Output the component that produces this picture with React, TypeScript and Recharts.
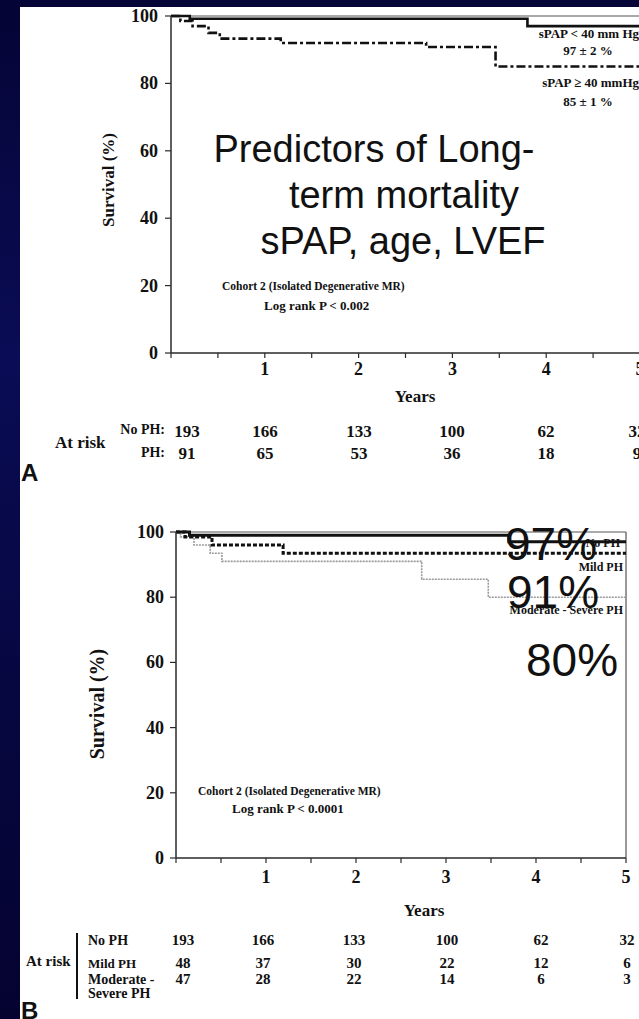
import React from "react";
import { LineChart, Line, XAxis, YAxis, ReferenceLine } from "recharts";

// Shared axis ticks
const yearTicks = [0, 0.5, 1, 1.5, 2, 2.5, 3, 3.5, 4, 4.5, 5];
const survivalTicks = [0, 20, 40, 60, 80, 100];
const riskColumnYears = [0, 1, 2, 3, 4, 5];

// Panel A: sPAP < 40 vs sPAP >= 40 mmHg
const lowSpapYears = [0, 0.2, 3.8, 5];
const lowSpapSurvival = [100, 99.2, 97, 97];
const highSpapYears = [0, 0.1, 0.23, 0.4, 0.52, 1.17, 2.72, 3.46, 5];
const highSpapSurvival = [100, 98.5, 97, 95, 93.3, 92, 90.8, 85, 85];
const atRiskNoPhA = [193, 166, 133, 100, 62, 32];
const atRiskPhA = [91, 65, 53, 36, 18, 9];

// Panel B: No PH / Mild PH / Moderate-Severe PH
const noPhYears = [0, 0.15, 3.7, 5];
const noPhSurvival = [100, 99, 97, 97];
const mildPhYears = [0, 0.1, 0.4, 1.19, 5];
const mildPhSurvival = [100, 98.5, 96, 93.5, 93.5];
const modSevPhYears = [0, 0.05, 0.2, 0.38, 0.51, 2.73, 3.47, 5];
const modSevPhSurvival = [100, 98.5, 96, 93.5, 91, 85.5, 80, 80];
const atRiskNoPhB = [193, 166, 133, 100, 62, 32];
const atRiskMildB = [48, 37, 30, 22, 12, 6];
const atRiskModSevB = [47, 28, 22, 14, 6, 3];

const SERIF = "'Liberation Serif', 'Times New Roman', serif";
const SANS = "'Liberation Sans', Arial, sans-serif";
const AXIS = "#2a2a2a";

const toPoints = (years: number[], surv: number[]) =>
  years.map((t, i) => ({ t, s: surv[i] }));

const makeXTick = (labelOffset: number) => (props: any) => {
  const { x, y, payload } = props;
  const v = payload.value as number;
  return (
    <g>
      <line x1={x} x2={x} y1={y} y2={y + 5} stroke={AXIS} strokeWidth={1.2} />
      {Number.isInteger(v) && v > 0 ? (
        <text x={x} y={y + labelOffset} textAnchor="middle" fontFamily={SERIF} fontWeight="bold" fontSize={18} fill="#111">
          {v}
        </text>
      ) : null}
    </g>
  );
};

const makeYTick = (gap: number) => (props: any) => {
  const { x, y, payload } = props;
  return (
    <g>
      <line x1={x - 6} x2={x} y1={y} y2={y} stroke={AXIS} strokeWidth={1.2} />
      <text x={x - gap} y={y + 6} textAnchor="end" fontFamily={SERIF} fontWeight="bold" fontSize={18} fill="#111">
        {payload.value}
      </text>
    </g>
  );
};

type Series = { key: string; data: { t: number; s: number }[]; stroke: string; width: number; dash?: string };

function SurvivalPlot(props: {
  top: number;
  width: number;
  height: number;
  margin: { top: number; right: number; bottom: number; left: number };
  series: Series[];
  xLabelOffset: number;
  yGap: number;
}) {
  const { top, width, height, margin, series, xLabelOffset, yGap } = props;
  return (
    <div style={{ position: "absolute", left: 0, top, width, height }}>
      <LineChart width={width} height={height} margin={margin}>
        <XAxis
          dataKey="t"
          type="number"
          domain={[0, 5]}
          ticks={yearTicks}
          interval={0}
          tickSize={0}
          tickMargin={0}
          tickLine={false}
          height={30}
          axisLine={{ stroke: AXIS, strokeWidth: 1.5 }}
          tick={makeXTick(xLabelOffset)}
        />
        <YAxis
          type="number"
          domain={[0, 100]}
          ticks={survivalTicks}
          interval={0}
          tickSize={0}
          tickMargin={0}
          tickLine={false}
          width={40}
          axisLine={{ stroke: AXIS, strokeWidth: 1.5 }}
          tick={makeYTick(yGap)}
        />
        <ReferenceLine y={100} stroke="#555" strokeWidth={1} />
        <ReferenceLine x={5} stroke="#555" strokeWidth={1.2} />
        {series.map((s) => (
          <Line
            key={s.key}
            data={s.data}
            dataKey="s"
            type="stepAfter"
            stroke={s.stroke}
            strokeWidth={s.width}
            strokeDasharray={s.dash}
            dot={false}
            activeDot={false}
            isAnimationActive={false}
          />
        ))}
      </LineChart>
    </div>
  );
}

const T = (p: any) => {
  const { children, serif = true, bold = true, size, ...rest } = p;
  return (
    <text fontFamily={serif ? SERIF : SANS} fontWeight={bold ? "bold" : "normal"} fontSize={size} fill="#111" {...rest}>
      {children}
    </text>
  );
};

export default function App() {
  const seriesA: Series[] = [
    { key: "lowSpap", data: toPoints(lowSpapYears, lowSpapSurvival), stroke: "#111", width: 2.6 },
    { key: "highSpap", data: toPoints(highSpapYears, highSpapSurvival), stroke: "#111", width: 2.6, dash: "9 3 3 3" },
  ];
  const seriesB: Series[] = [
    { key: "modSev", data: toPoints(modSevPhYears, modSevPhSurvival), stroke: "#9a9a9a", width: 1.6, dash: "2 1" },
    { key: "mild", data: toPoints(mildPhYears, mildPhSurvival), stroke: "#111", width: 3, dash: "4 2" },
    { key: "noPh", data: toPoints(noPhYears, noPhSurvival), stroke: "#111", width: 3 },
  ];

  // at-risk column centres
  const colA = [187, 265, 359, 452, 546, 637];
  const colB = [183, 263, 354, 447, 541, 627];

  return (
    <div style={{ position: "fixed", left: 0, top: 0, width: 639, height: 1019, overflow: "hidden", background: "#03032c" }}>
      <svg width={639} height={1019} style={{ position: "absolute", left: 0, top: 0 }}>
        <defs>
          <linearGradient id="edge" x1="0" y1="0" x2="0" y2="1">
            <stop offset="0" stopColor="#050436" />
            <stop offset="0.35" stopColor="#0a0c55" />
            <stop offset="0.6" stopColor="#070845" />
            <stop offset="1" stopColor="#040330" />
          </linearGradient>
        </defs>
        <rect x={0} y={0} width={639} height={1019} fill="url(#edge)" />
        <rect x={20} y={7} width={619} height={1012} fill="#ffffff" />
      </svg>

      <SurvivalPlot
        top={0}
        width={700}
        height={400}
        margin={{ top: 16, right: 60, bottom: 17, left: 131 }}
        series={seriesA}
        xLabelOffset={22}
        yGap={13}
      />
      <SurvivalPlot
        top={480}
        width={660}
        height={420}
        margin={{ top: 52, right: 34, bottom: 12, left: 136 }}
        series={seriesB}
        xLabelOffset={25}
        yGap={12}
      />

      <svg width={639} height={1019} style={{ position: "absolute", left: 0, top: 0, pointerEvents: "none" }}>
        {/* Panel A */}
        <T size={17} textAnchor="middle" transform="translate(114,180) rotate(-90)">Survival (%)</T>
        <T size={17} x={415} y={402} textAnchor="middle">Years</T>
        <T size={13} x={639} y={38} textAnchor="end">sPAP &lt; 40 mm Hg</T>
        <T size={13} x={588} y={55} textAnchor="middle">97 ± 2 %</T>
        <T size={13} x={639} y={87} textAnchor="end">sPAP ≥ 40 mmHg</T>
        <T size={13} x={588} y={106} textAnchor="middle">85 ± 1 %</T>
        <T size={11.5} x={222} y={290}>Cohort 2  (Isolated Degenerative MR)</T>
        <T size={13} x={264} y={310}>Log rank P &lt; 0.002</T>
        <T serif={false} bold={false} size={38} x={374} y={162} textAnchor="middle">Predictors of Long-</T>
        <T serif={false} bold={false} size={38} x={404} y={208} textAnchor="middle">term mortality</T>
        <T serif={false} bold={false} size={38} x={403} y={254} textAnchor="middle">sPAP, age, LVEF</T>

        <T size={17} x={55} y={448}>At risk</T>
        <T size={14} x={165} y={434} textAnchor="end">No PH:</T>
        <T size={14} x={165} y={457} textAnchor="end">PH:</T>
        {riskColumnYears.map((yr, i) => (
          <T key={"a1" + yr} size={17} x={colA[i]} y={437} textAnchor="middle">{atRiskNoPhA[i]}</T>
        ))}
        {riskColumnYears.map((yr, i) => (
          <T key={"a2" + yr} size={17} x={colA[i]} y={459} textAnchor="middle">{atRiskPhA[i]}</T>
        ))}
        <T serif={false} size={24} x={21} y={481}>A</T>

        {/* Panel B */}
        <T size={20} textAnchor="middle" transform="translate(104,704) rotate(-90)">Survival (%)</T>
        <T size={17} x={424} y={916} textAnchor="middle">Years</T>
        <T size={12} x={620} y={547} textAnchor="end">No PH</T>
        <T size={12} x={623} y={571} textAnchor="end">Mild PH</T>
        <T size={12} x={623} y={614} textAnchor="end">Moderate - Severe PH</T>
        <T size={11.5} x={198} y={795}>Cohort 2  (Isolated Degenerative MR)</T>
        <T size={13} x={232} y={813}>Log rank P &lt; 0.0001</T>
        <T serif={false} bold={false} size={46} x={505} y={560}>97%</T>
        <T serif={false} bold={false} size={46} x={507} y={608}>91%</T>
        <T serif={false} bold={false} size={46} x={526} y={676}>80%</T>

        <T size={15} x={26} y={966}>At risk</T>
        <line x1={77} x2={77} y1={933} y2={999} stroke="#111" strokeWidth={2} />
        <T size={14} x={88} y={945}>No PH</T>
        <T size={13} x={88} y={968}>Mild PH</T>
        <T size={14} x={88} y={984}>Moderate -</T>
        <T size={14} x={88} y={998}>Severe PH</T>
        {riskColumnYears.map((yr, i) => (
          <T key={"b1" + yr} size={15} x={colB[i]} y={945} textAnchor="middle">{atRiskNoPhB[i]}</T>
        ))}
        {riskColumnYears.map((yr, i) => (
          <T key={"b2" + yr} size={15} x={colB[i]} y={968} textAnchor="middle">{atRiskMildB[i]}</T>
        ))}
        {riskColumnYears.map((yr, i) => (
          <T key={"b3" + yr} size={15} x={colB[i]} y={984} textAnchor="middle">{atRiskModSevB[i]}</T>
        ))}
        <T serif={false} size={24} x={21} y={1019}>B</T>
      </svg>
    </div>
  );
}
